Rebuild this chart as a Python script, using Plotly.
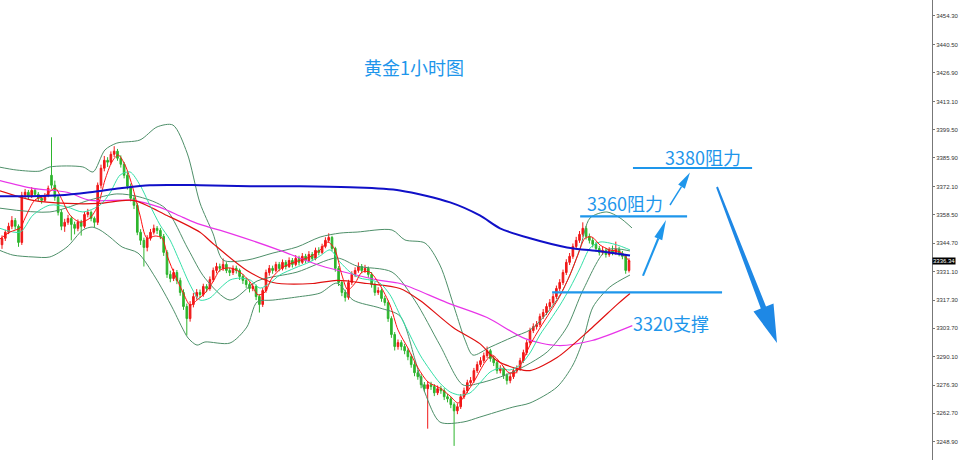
import plotly.graph_objects as go

# ---------------- candle data (1h gold) ----------------
O = [3344.0,3347.1,3350.0,3352.9,3355.7,3352.9,3345.1,3367.8,3369.3,3367.4,
     3370.2,3368.3,3366.4,3365.4,3367.8,3377.5,3372.7,3366.9,3359.6,3352.9,
     3354.8,3356.7,3353.8,3351.9,3354.8,3352.9,3358.6,3359.6,3356.7,3354.8,
     3372.7,3380.9,3384.7,3383.8,3387.6,3389.1,3385.7,3382.8,3377.5,3372.2,
     3366.4,3363.0,3350.0,3346.1,3342.7,3347.1,3350.0,3351.9,3350.9,3348.0,
     3340.3,3329.7,3327.7,3330.6,3326.8,3321.0,3314.2,3308.4,3315.2,3319.0,
     3321.0,3320.0,3323.9,3322.9,3327.2,3331.6,3333.5,3332.6,3334.5,3331.6,
     3330.6,3332.6,3331.6,3328.7,3326.8,3324.8,3322.9,3323.9,3319.0,3315.2,
     3321.9,3330.6,3332.6,3331.6,3334.5,3332.6,3335.5,3333.5,3336.4,3334.5,
     3337.4,3335.5,3338.4,3336.4,3339.3,3337.4,3341.3,3340.3,3343.2,3346.1,
     3347.5,3342.2,3332.6,3325.8,3321.0,3318.6,3325.8,3329.7,3331.6,3333.5,
     3331.6,3332.6,3329.7,3324.8,3321.0,3321.9,3318.1,3316.1,3308.4,3300.7,
     3294.9,3296.8,3294.9,3292.9,3290.0,3286.2,3282.3,3280.4,3276.5,3274.6,
     3276.5,3275.6,3272.6,3274.6,3273.6,3270.7,3269.7,3266.9,3263.9,3265.9,
     3270.7,3273.6,3277.5,3278.5,3283.3,3286.2,3288.1,3290.5,3292.9,3289.1,
     3287.1,3283.3,3284.3,3280.9,3278.5,3280.4,3283.3,3284.3,3288.1,3292.0,
     3296.8,3302.6,3304.5,3305.5,3309.4,3311.3,3314.2,3316.1,3319.0,3322.9,
     3325.8,3330.6,3335.5,3338.4,3343.2,3346.1,3349.0,3351.9,3348.0,3346.1,
     3344.2,3342.2,3340.3,3341.3,3339.3,3341.3,3340.3,3341.8,3339.8,3338.4,
     3331.6]
H = [3348.5,3351.2,3354.6,3357.8,3356.9,3353.8,3369.5,3370.9,3370.4,3371.8,
     3371.0,3369.4,3367.6,3368.9,3372.5,3395.8,3374.9,3367.8,3361.0,3356.5,
     3358.4,3357.9,3355.1,3356.2,3356.0,3359.9,3361.3,3360.5,3357.6,3374.0,
     3382.6,3386.8,3386.2,3389.0,3391.5,3390.2,3387.1,3383.9,3378.8,3373.5,
     3368.0,3364.1,3351.5,3347.4,3348.6,3351.6,3353.7,3353.0,3352.1,3349.2,
     3341.4,3331.5,3332.4,3331.8,3328.1,3322.5,3315.6,3316.8,3320.7,3322.6,
     3322.4,3325.2,3325.0,3328.7,3333.0,3335.3,3334.9,3337.4,3335.6,3332.8,
     3334.0,3333.9,3332.5,3329.9,3328.0,3325.9,3325.5,3324.8,3320.1,3323.1,
     3332.0,3334.2,3333.9,3335.8,3335.7,3336.9,3336.6,3337.9,3337.6,3339.0,
     3338.7,3340.0,3339.6,3340.9,3340.5,3342.6,3342.8,3344.5,3347.6,3349.5,
     3348.3,3343.0,3333.7,3326.9,3322.3,3327.1,3331.2,3333.1,3335.5,3334.7,
     3334.3,3333.5,3330.8,3325.9,3323.5,3322.8,3319.4,3317.2,3309.5,3301.9,
     3298.3,3298.0,3296.2,3294.0,3291.1,3287.5,3283.6,3281.6,3277.8,3278.1,
     3277.9,3276.8,3276.1,3276.0,3274.8,3272.0,3270.8,3268.0,3267.5,3272.0,
     3275.1,3278.9,3280.2,3284.6,3287.7,3289.8,3292.0,3294.9,3293.8,3290.3,
     3288.2,3285.9,3285.4,3282.0,3282.0,3284.7,3285.8,3289.5,3293.4,3298.1,
     3304.0,3306.1,3307.2,3310.8,3313.0,3315.7,3317.8,3320.5,3324.3,3327.4,
     3332.0,3337.0,3340.0,3344.6,3347.8,3350.6,3354.8,3353.0,3349.4,3347.3,
     3345.4,3343.5,3342.9,3342.5,3342.8,3343.6,3345.5,3343.0,3341.0,3339.5,
     3337.5]
L = [3342.0,3345.8,3349.1,3351.5,3351.2,3343.0,3343.9,3366.2,3366.0,3366.5,
     3367.1,3365.0,3363.8,3364.6,3366.9,3371.0,3365.2,3358.1,3351.0,3350.2,
     3353.6,3346.1,3349.0,3350.5,3348.4,3352.0,3357.2,3355.3,3352.4,3353.5,
     3371.1,3379.4,3381.5,3382.7,3386.3,3384.5,3381.2,3376.0,3370.6,3364.9,
     3361.2,3348.6,3343.9,3333.5,3340.8,3346.0,3348.9,3349.2,3346.7,3338.6,
     3328.0,3325.9,3326.5,3325.0,3319.4,3312.6,3300.2,3306.9,3313.8,3317.5,
     3318.3,3318.9,3321.1,3321.8,3326.1,3330.2,3331.0,3331.4,3330.3,3328.9,
     3329.4,3330.1,3327.0,3325.1,3323.2,3321.0,3321.6,3317.3,3311.3,3314.0,
     3320.8,3329.1,3330.0,3330.7,3331.2,3331.6,3332.1,3332.8,3333.0,3333.6,
     3334.0,3334.7,3335.1,3335.6,3336.1,3336.5,3338.9,3339.5,3342.3,3345.0,
     3340.8,3331.0,3324.1,3319.2,3316.6,3317.5,3324.6,3328.4,3330.5,3330.2,
     3330.4,3328.1,3323.3,3319.4,3319.8,3316.5,3314.6,3306.8,3299.1,3293.0,
     3293.4,3293.1,3291.2,3288.3,3284.7,3280.6,3278.9,3274.8,3273.0,3255.3,
     3274.0,3271.0,3271.5,3272.1,3269.1,3268.0,3265.2,3247.0,3262.3,3264.8,
     3269.6,3272.4,3276.2,3277.4,3282.1,3285.0,3287.0,3289.4,3287.6,3285.5,
     3281.8,3282.0,3279.3,3276.6,3277.2,3279.3,3282.0,3283.2,3287.0,3290.8,
     3295.7,3301.4,3303.1,3304.3,3308.2,3310.1,3312.9,3315.0,3317.8,3321.7,
     3324.6,3329.4,3334.2,3337.2,3342.0,3344.9,3347.8,3346.5,3344.6,3342.7,
     3340.6,3338.8,3339.0,3337.8,3338.2,3338.9,3339.1,3338.4,3337.0,3330.0,
     3330.6]
C = [3347.1,3350.0,3352.9,3355.7,3352.9,3345.1,3367.8,3369.3,3367.4,3370.2,
     3368.3,3366.4,3365.4,3367.8,3371.2,3372.7,3366.9,3359.6,3352.9,3354.8,
     3356.7,3353.8,3351.9,3354.8,3352.9,3358.6,3359.6,3356.7,3354.8,3372.7,
     3380.9,3384.7,3383.8,3387.6,3389.1,3385.7,3382.8,3377.5,3372.2,3366.4,
     3363.0,3350.0,3346.1,3342.7,3347.1,3350.0,3351.9,3350.9,3348.0,3340.3,
     3329.7,3327.7,3330.6,3326.8,3321.0,3314.2,3308.4,3315.2,3319.0,3321.0,
     3320.0,3323.9,3322.9,3327.2,3331.6,3333.5,3332.6,3334.5,3331.6,3330.6,
     3332.6,3331.6,3328.7,3326.8,3324.8,3322.9,3323.9,3319.0,3315.2,3321.9,
     3330.6,3332.6,3331.6,3334.5,3332.6,3335.5,3333.5,3336.4,3334.5,3337.4,
     3335.5,3338.4,3336.4,3339.3,3337.4,3341.3,3340.3,3343.2,3346.1,3347.5,
     3342.2,3332.6,3325.8,3321.0,3318.6,3325.8,3329.7,3331.6,3333.5,3331.6,
     3332.6,3329.7,3324.8,3321.0,3321.9,3318.1,3316.1,3308.4,3300.7,3294.9,
     3296.8,3294.9,3292.9,3290.0,3286.2,3282.3,3280.4,3276.5,3274.6,3276.5,
     3275.6,3272.6,3274.6,3273.6,3270.7,3269.7,3266.9,3263.9,3265.9,3270.7,
     3273.6,3277.5,3278.5,3283.3,3286.2,3288.1,3290.5,3292.9,3289.1,3287.1,
     3283.3,3284.3,3280.9,3278.5,3280.4,3283.3,3284.3,3288.1,3292.0,3296.8,
     3302.6,3304.5,3305.5,3309.4,3311.3,3314.2,3316.1,3319.0,3322.9,3325.8,
     3330.6,3335.5,3338.4,3343.2,3346.1,3349.0,3351.9,3348.0,3346.1,3344.2,
     3342.2,3340.3,3341.3,3339.3,3341.3,3340.3,3341.8,3339.8,3338.4,3331.6,
     3336.34]
bars = list(range(len(C)))
last_price = 3336.34

# ---------------- indicator lines ----------------
ma5_x = [-1,2.4,5.5,7.0,10.0,13.0,16.1,18.2,20.6,23.6,26.7,29.1,31.2,33.3,35.2,37.3,39.4,41.8,43.9,46.4,
         48.5,50.3,52.4,54.8,57.0,59.1,61.5,63.9,66.1,69.1,72.1,75.2,77.6,79.7,81.8,84.8,88.8,93.3,96.4,98.8,
         100.9,103.0,104.8,107.0,109.1,111.5,114.5,117.6,120.0,123.0,126.1,129.1,132.7,135.8,138.2,140.3,143.3,146.4,148.5,150.9,
         153.3,155.5,157.6,160.0,163.0,166.1,169.1,172.1,174.5,176.7,178.8,181.2,184.2,187.3,190.3]
ma5_y = [3346.3,3350.1,3352.1,3356.9,3365.6,3367.5,3371.3,3365.6,3358.3,3354.9,3356.9,3363.1,3375.2,3383.9,3387.3,3382.4,3372.8,3358.3,3347.2,3348.2,
         3347.2,3337.6,3329.4,3321.2,3314.9,3317.3,3320.7,3326.0,3331.8,3332.8,3330.8,3326.0,3319.8,3321.2,3327.9,3332.8,3335.7,3338.1,3341.5,3345.3,
         3341.5,3329.4,3322.2,3325.5,3330.8,3330.8,3324.6,3314.9,3302.9,3294.2,3284.5,3277.8,3274.9,3271.0,3267.7,3271.5,3278.8,3287.4,3290.8,3287.4,
         3282.6,3282.1,3287.4,3295.6,3303.8,3311.6,3319.3,3329.4,3339.0,3347.2,3347.7,3343.9,3341.5,3340.5,3335.7]

ma10_x = [-1,5.5,9.4,14.5,19.7,24.5,29.7,32.7,35.8,38.8,41.8,44.8,47.9,50.9,53.9,57.0,60.0,63.0,66.1,69.1,
          72.1,75.2,78.2,81.2,84.2,88.8,93.3,96.4,99.4,102.4,105.5,108.5,111.5,114.5,117.6,120.6,123.6,126.7,129.7,132.7,
          135.8,138.8,141.8,144.8,147.9,150.9,153.9,157.0,160.0,163.0,166.1,169.1,172.1,175.2,178.2,181.2,184.2,187.3,190.3]
ma10_y = [3352.1,3350.1,3358.3,3363.1,3362.2,3359.8,3363.1,3368.9,3377.6,3379.1,3372.8,3363.1,3353.5,3346.3,3335.7,3324.6,3317.3,3318.3,3323.1,3327.0,
          3327.9,3327.0,3323.1,3325.5,3329.4,3332.8,3335.7,3338.6,3341.5,3335.7,3330.8,3327.9,3327.0,3325.5,3319.8,3310.1,3300.5,3290.8,3283.6,3277.3,
          3273.0,3271.5,3272.5,3277.3,3282.6,3284.5,3283.6,3286.0,3291.8,3300.5,3307.7,3314.9,3323.1,3332.8,3342.4,3345.3,3344.8,3343.4,3341.5]

ma30_x = [-1,9.4,19.7,29.7,39.7,50.0,60.0,63.9,74.2,82.1,94.2,101.5,110.6,120.6,126.7,136.7,144.8,150.0,156.0,160.0,168.2,178.8,186.7,190.3]
ma30_y = [3370.2,3365.4,3363.9,3363.9,3365.4,3358.1,3350.0,3344.6,3331.6,3325.8,3325.3,3326.8,3325.3,3322.9,3317.1,3304.1,3296.3,3288.1,3284.3,3283.3,3289.6,3304.0,3315.6,3320.5]

ma60_x = [-1,9.4,19.7,26.7,39.7,47.9,54.8,60.0,69.1,84.2,96.4,114.5,120.6,134.8,147.0,158.5,168.5,178.8,191.0]
ma60_y = [3375.1,3371.2,3369.3,3365.4,3365.4,3362.0,3357.2,3353.8,3349.5,3341.3,3334.0,3326.8,3325.3,3316.1,3308.9,3298.7,3295.4,3297.8,3305.0]

ma120_x = [-1,8.5,17.6,26.7,35.8,44.8,60.0,75.2,90.3,105.5,120.6,135.8,144.8,150.9,160.0,171.2,181.2,190.3]
ma120_y = [3367.4,3367.4,3367.8,3369.3,3371.2,3372.7,3372.7,3372.2,3372.2,3371.7,3370.2,3364.4,3358.1,3351.9,3347.1,3342.7,3340.8,3338.8]

bb_up_x = [-1,4.5,11.5,14.5,24.5,27.6,31.2,34.8,41.8,47.0,51.8,56.1,60.0,63.9,67.0,74.2,82.1,89.4,96.4,102.4,
           107.6,118.2,122.1,128.2,132.7,137.3,140.3,142.7,147.9,154.8,160.0,165.2,169.1,172.1,175.2,178.2,183.3,187.3,190.9]
bb_up_y = [3381.5,3380.0,3379.5,3381.5,3381.5,3379.1,3389.7,3393.0,3394.5,3400.8,3401.7,3388.2,3364.1,3349.6,3336.6,3336.6,3340.0,3342.9,3347.7,3349.6,
           3350.1,3351.1,3346.3,3344.8,3334.2,3312.5,3298.1,3290.8,3294.6,3299.5,3302.9,3311.1,3319.8,3329.4,3342.4,3356.9,3359.8,3356.9,3352.1]

bb_mid_x = [-1,14.5,26.7,34.8,41.8,49.4,56.4,61.5,69.1,77.3,89.4,101.5,107.6,118.2,125.2,132.7,139.7,144.8,154.8,165.2,171.2,176.1,183.3,190.3]
bb_mid_y = [3361.7,3359.8,3365.6,3368.5,3367.0,3361.7,3341.9,3327.9,3317.3,3326.5,3330.8,3337.6,3333.7,3330.8,3316.9,3295.6,3276.4,3277.3,3282.6,3292.3,3304.3,3322.2,3341.5,3341.0]

bb_lo_x = [-1,3.3,9.4,14.5,19.7,24.5,27.3,29.7,32.7,36.4,41.2,46.4,51.5,54.5,56.4,59.1,61.5,69.1,74.2,77.3,
           82.1,89.4,96.4,101.5,106.4,114.5,120.6,125.2,128.2,132.7,139.7,144.8,154.8,160.0,168.2,173.0,176.1,179.1,184.2,190.3]
bb_lo_y = [3341.5,3339.0,3338.1,3338.1,3342.9,3351.1,3352.5,3351.1,3347.7,3342.9,3340.0,3328.4,3314.0,3304.3,3299.0,3295.6,3297.1,3296.6,3304.3,3316.4,
           3317.3,3318.8,3320.7,3325.5,3317.3,3313.5,3309.6,3288.4,3272.5,3258.5,3258.5,3260.9,3265.7,3267.7,3275.4,3286.0,3298.1,3314.0,3323.6,3329.4]

ytick_vals = [3454.3,3440.5,3426.9,3413.1,3399.5,3385.9,3372.1,3358.5,3344.7,3331.1,3317.3,3303.7,3290.1,3276.3,3262.7,3248.9]
ytick_text = ["%.2f" % v for v in ytick_vals]

levels = [("3380阻力", 3381.0, 191.2, 227.3), ("3360阻力", 3357.7, 175.2, 207.6), ("3320支撑", 3321.0, 166.7, 218.2)]

BLUE = "#1E96EB"
W, Hh = 932.0, 460.0

fig = go.Figure()

def add_line(xs, ys, color, width):
    fig.add_trace(go.Scatter(x=xs, y=ys, mode="lines",
                             line=dict(color=color, width=width, shape="spline", smoothing=0.8),
                             hoverinfo="skip", showlegend=False))

add_line(bb_up_x, bb_up_y, "#4E8F69", 1)
add_line(bb_lo_x, bb_lo_y, "#4E8F69", 1)
add_line(bb_mid_x, bb_mid_y, "#4E8F69", 1)

fig.add_trace(go.Candlestick(
    x=bars, open=O, high=H, low=L, close=C,
    increasing=dict(line=dict(color="#F01818", width=1), fillcolor="#F01818"),
    decreasing=dict(line=dict(color="#2DB52D", width=1), fillcolor="#2DB52D"),
    whiskerwidth=0, hoverinfo="skip", showlegend=False))

add_line(ma60_x, ma60_y, "#E834E8", 1.2)
add_line(ma30_x, ma30_y, "#E01010", 1.2)
add_line(ma10_x, ma10_y, "#34E0A8", 1)
add_line(ma5_x, ma5_y, "#FF1010", 1)
add_line(ma120_x, ma120_y, "#1010C8", 2)

shapes = []
annotations = []

for text, lvl, x0, x1 in levels:
    shapes.append(dict(type="line", xref="x", yref="y", x0=x0, x1=x1, y0=lvl, y1=lvl,
                       line=dict(color=BLUE, width=2.2)))

def P(px, py):
    return "%.5f %.5f" % (px / W, 1 - py / Hh)

def poly(points):
    return "M " + " L ".join(P(a, b) for a, b in points) + " Z"

# thin arrows
shapes.append(dict(type="path", xref="paper", yref="paper",
                   path=poly([(642.0, 275.5), (644.0, 276.0), (659.3, 238.9), (657.3, 238.1)]),
                   fillcolor=BLUE, line=dict(width=0)))
shapes.append(dict(type="path", xref="paper", yref="paper",
                   path=poly([(666.0, 220.0), (662.2, 240.3), (654.4, 237.1)]),
                   fillcolor=BLUE, line=dict(width=0)))
shapes.append(dict(type="path", xref="paper", yref="paper",
                   path=poly([(669.4, 204.6), (670.6, 205.4), (682.1, 187.0), (680.9, 186.2)]),
                   fillcolor=BLUE, line=dict(width=0)))
shapes.append(dict(type="path", xref="paper", yref="paper",
                   path=poly([(690.0, 172.5), (684.8, 188.8), (678.2, 184.6)]),
                   fillcolor=BLUE, line=dict(width=0)))
# big down arrow
shapes.append(dict(type="path", xref="paper", yref="paper",
                   path=poly([(717.9, 186.6), (766.0, 306.5), (773.5, 303.5), (777.0, 343.0),
                              (753.5, 311.5), (760.8, 308.6), (716.1, 187.4)]),
                   fillcolor="#1E88E5", line=dict(width=0)))

annotations.append(dict(text="黄金1小时图", xref="paper", yref="paper", x=414 / W, y=1 - 67 / Hh,
                        xanchor="center", yanchor="middle",
                        showarrow=False, font=dict(family="Noto Sans CJK SC", size=18, color=BLUE)))
label_pos = {"3380阻力": (703, 157), "3360阻力": (625, 203), "3320支撑": (671, 323)}
for text, lvl, x0, x1 in levels:
    px, py = label_pos[text]
    annotations.append(dict(text=text, xref="paper", yref="paper", x=px / W, y=1 - py / Hh,
                            xanchor="center", yanchor="middle",
                            showarrow=False, font=dict(family="Noto Sans CJK SC", size=18, color=BLUE)))

annotations.append(dict(text=("%.2f" % last_price), xref="paper", yref="y", x=1.0, y=last_price,
                        xanchor="left", yanchor="middle", showarrow=False, bgcolor="#000000",
                        borderpad=0, font=dict(family="Liberation Sans", size=6, color="#FFFFFF")))

fig.update_layout(
    width=959, height=460,
    margin=dict(l=0, r=27, t=0, b=0),
    paper_bgcolor="#FFFFFF", plot_bgcolor="#FFFFFF",
    showlegend=False,
    shapes=shapes, annotations=annotations,
    xaxis=dict(range=[-0.606, 281.82], visible=False, rangeslider=dict(visible=False), fixedrange=True),
    yaxis=dict(range=[3240.2, 3462.0], side="right", tickvals=ytick_vals, ticktext=ytick_text,
               ticks="outside", ticklen=2, tickcolor="#777777", showline=True, linecolor="#777777",
               linewidth=1, showgrid=False, zeroline=False, fixedrange=True,
               tickfont=dict(family="Liberation Sans", size=6, color="#333333")),
)

fig.write_html("out.html", config={"displayModeBar": False},
               post_script="document.body.style.margin='0px';document.body.style.overflow='hidden';")
